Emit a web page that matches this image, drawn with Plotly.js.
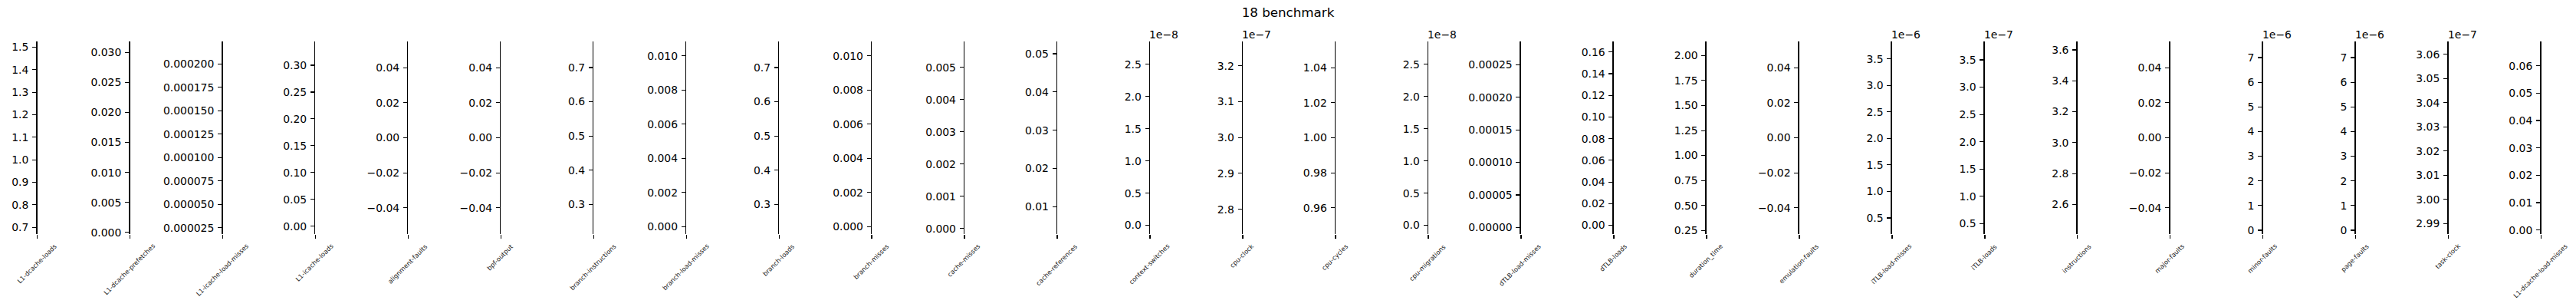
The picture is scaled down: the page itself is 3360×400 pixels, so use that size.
<!DOCTYPE html>
<html>
<head>
<meta charset="utf-8">
<script src="https://cdn.plot.ly/plotly-3.0.1.min.js"></script>
<style>html,body{margin:0;padding:0;background:#fff;}#chart{width:3360px;height:400px;}</style>
</head>
<body>
<div id="chart"></div>
<script>
// ---- data ----
const metrics = [
  'L1-dcache-loads','L1-dcache-prefetches','L1-icache-load-misses','L1-icache-loads',
  'alignment-faults','bpf-output','branch-instructions','branch-load-misses','branch-loads',
  'branch-misses','cache-misses','cache-references','context-switches','cpu-clock',
  'cpu-cycles','cpu-migrations','dTLB-load-misses','dTLB-loads','duration_time',
  'emulation-faults','iTLB-load-misses','iTLB-loads','instructions','major-faults',
  'minor-faults','page-faults','task-clock','L1-dcache-load-misses'
];
const dataMin = [
  0.709, 0.00119, 0.0000276, 0.00154,
  0, 0, 0.2389, 0.000078, 0.2389,
  0.000078, 0.000097, 0.00513, 0, 2.7552e-7,
  1.0, 0, 0.0000033, 0, 0.3018,
  0, 0.3612e-6, 0.4682e-7, 2.4647, 0,
  0.1993e-6, 0.1993e-6, 2.9893e-7, 0.0017
];
const dataMax = [
  1.487, 0.03034, 0.0002146, 0.3281,
  0, 0, 0.7507, 0.010328, 0.7507,
  0.010328, 0.00553, 0.05092, 2.72e-8, 3.2433e-7,
  1.0, 2.72e-8, 0.0002723, 0.1617, 2.0531,
  0, 3.6629e-6, 3.6771e-7, 3.5979, 0,
  7.298e-6, 7.298e-6, 3.0617e-7, 0.06568
];
const offsetExp = [0,0,0,0,0,0,0,0,0,0,0,0,-8,-7,0,-8,0,0,0,0,-6,-7,0,0,-6,-6,-7,0];
const tickLabels = [
  ['0.7','0.8','0.9','1.0','1.1','1.2','1.3','1.4','1.5'],
  ['0.000','0.005','0.010','0.015','0.020','0.025','0.030'],
  ['0.000025','0.000050','0.000075','0.000100','0.000125','0.000150','0.000175','0.000200'],
  ['0.00','0.05','0.10','0.15','0.20','0.25','0.30'],
  ['\u22120.04','\u22120.02','0.00','0.02','0.04'],
  ['\u22120.04','\u22120.02','0.00','0.02','0.04'],
  ['0.3','0.4','0.5','0.6','0.7'],
  ['0.000','0.002','0.004','0.006','0.008','0.010'],
  ['0.3','0.4','0.5','0.6','0.7'],
  ['0.000','0.002','0.004','0.006','0.008','0.010'],
  ['0.000','0.001','0.002','0.003','0.004','0.005'],
  ['0.01','0.02','0.03','0.04','0.05'],
  ['0.0','0.5','1.0','1.5','2.0','2.5'],
  ['2.8','2.9','3.0','3.1','3.2'],
  ['0.96','0.98','1.00','1.02','1.04'],
  ['0.0','0.5','1.0','1.5','2.0','2.5'],
  ['0.00000','0.00005','0.00010','0.00015','0.00020','0.00025'],
  ['0.00','0.02','0.04','0.06','0.08','0.10','0.12','0.14','0.16'],
  ['0.25','0.50','0.75','1.00','1.25','1.50','1.75','2.00'],
  ['\u22120.04','\u22120.02','0.00','0.02','0.04'],
  ['0.5','1.0','1.5','2.0','2.5','3.0','3.5'],
  ['0.5','1.0','1.5','2.0','2.5','3.0','3.5'],
  ['2.6','2.8','3.0','3.2','3.4','3.6'],
  ['\u22120.04','\u22120.02','0.00','0.02','0.04'],
  ['0','1','2','3','4','5','6','7'],
  ['0','1','2','3','4','5','6','7'],
  ['2.99','3.00','3.01','3.02','3.03','3.04','3.05','3.06'],
  ['0.00','0.01','0.02','0.03','0.04','0.05','0.06']
];
const chartTitle = '18 benchmark';

// ---- layout geometry ----
const W = 3360, H = 400;
const firstX = 48.6, stepX = 120.96;
const axTop = 54, axBot = 305;
const FONT = 'DejaVu Sans, sans-serif';
const LABEL_FS = 8.33;
const labelTop = 316;

const ctx = document.createElement('canvas').getContext('2d');
ctx.font = LABEL_FS + 'px "DejaVu Sans"';

function mplRange(lo, hi) {
  if (lo === hi) {
    if (lo === 0) { lo = -0.05; hi = 0.05; }
    else { const e = 0.05 * Math.abs(lo); lo -= e; hi += e; }
  }
  const d = hi - lo;
  return [lo - 0.05 * d, hi + 0.05 * d];
}

const traces = [];
const annotations = [];
const layout = {
  width: W, height: H,
  margin: {l: 0, r: 0, t: 0, b: 0, pad: 0},
  paper_bgcolor: '#fff', plot_bgcolor: 'rgba(0,0,0,0)',
  showlegend: false,
  title: {text: chartTitle, x: 0.5, xanchor: 'center', xref: 'paper',
          y: 1 - 16 / H, yanchor: 'middle', yref: 'container',
          font: {family: FONT, size: 16.7, color: '#000'}},
  annotations: annotations
};

metrics.forEach((name, i) => {
  const n = i === 0 ? '' : String(i + 1);
  const xs = firstX + i * stepX;
  const scale = Math.pow(10, offsetExp[i]);
  const tv = tickLabels[i].map(s => parseFloat(s.replace('\u2212', '-')) * scale);
  layout['xaxis' + n] = {
    domain: [xs / W, (xs + 40) / W], range: [0, 1], anchor: 'y' + n,
    showgrid: false, zeroline: false, showline: false,
    tickmode: 'array', tickvals: [0], ticktext: [''], showticklabels: false,
    ticks: 'outside', ticklen: 5, tickwidth: 1.5, tickcolor: '#000', fixedrange: true
  };
  layout['yaxis' + n] = {
    domain: [(H - axBot) / H, (H - axTop) / H], anchor: 'x' + n,
    range: mplRange(dataMin[i], dataMax[i]),
    tickmode: 'array', tickvals: tv, ticktext: tickLabels[i],
    ticks: 'outside', ticklen: 5, tickwidth: 1.1, tickcolor: '#000',
    showline: true, linewidth: 1.5, linecolor: '#000',
    showgrid: false, zeroline: false, automargin: false,
    ticklabelstandoff: 2,
    tickfont: {family: FONT, size: 13.9, color: '#000'}, fixedrange: true
  };
  traces.push({
    type: 'scatter', mode: 'markers', x: [0, 0], y: [dataMin[i], dataMax[i]],
    xaxis: 'x' + n, yaxis: 'y' + n, marker: {size: 4, opacity: 0},
    hoverinfo: 'skip', showlegend: false
  });
  // rotated category label: bbox centred on the tick, top at labelTop
  const L = ctx.measureText(name).width;
  const boxH = (L + LABEL_FS * 1.17) * Math.SQRT1_2;
  const cy = labelTop + boxH / 2;
  annotations.push({
    xref: 'paper', yref: 'paper', x: (xs - 1) / W, y: (H - cy) / H,
    xanchor: 'center', yanchor: 'middle', textangle: -45, showarrow: false,
    text: name, borderpad: 0,
    font: {family: FONT, size: LABEL_FS, color: '#222'}
  });
  if (offsetExp[i] !== 0) {
    annotations.push({
      xref: 'paper', yref: 'paper', x: (xs - 2) / W, y: (H - 45) / H,
      xanchor: 'left', yanchor: 'middle', showarrow: false, borderpad: 0,
      text: '1e\u2212' + Math.abs(offsetExp[i]),
      font: {family: FONT, size: 13.9, color: '#000'}
    });
  }
});

Plotly.newPlot('chart', traces, layout, {staticPlot: true, displayModeBar: false});
</script>
</body>
</html>
